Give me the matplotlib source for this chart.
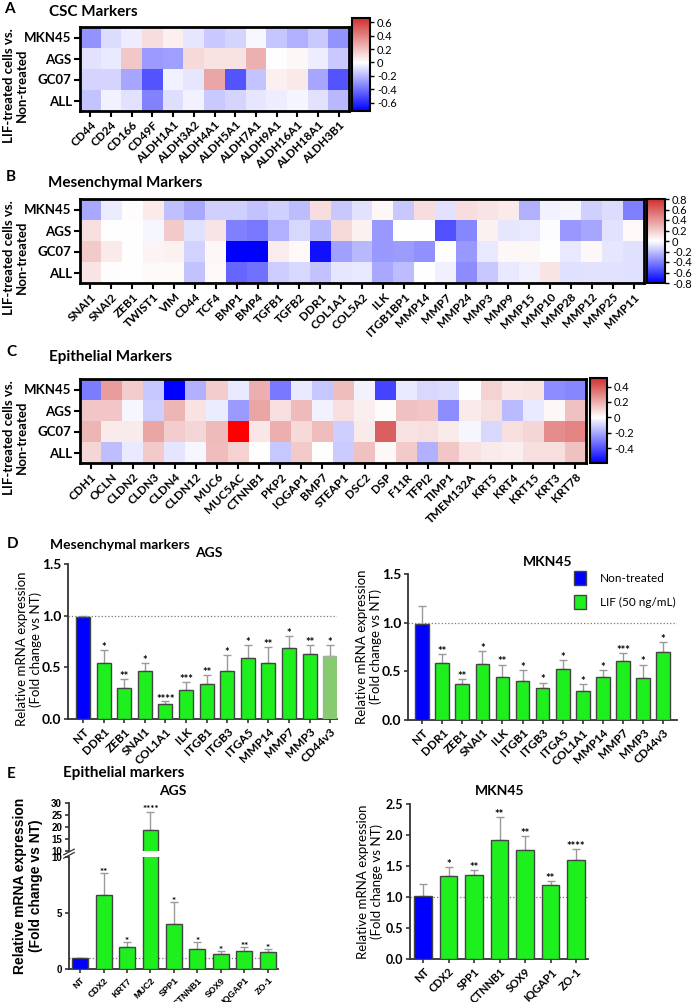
import numpy as np
import matplotlib
matplotlib.use('Agg')
import matplotlib.pyplot as plt
from matplotlib.colors import LinearSegmentedColormap
from matplotlib.patches import Patch

W, H = 692, 1002
plt.rcParams['font.family'] = ['Lato', 'DejaVu Sans']
plt.rcParams['axes.unicode_minus'] = False

# ---------------- heatmap data (log2 ratio LIF vs NT) ----------------
rows = ['MKN45', 'AGS', 'GC07', 'ALL']

csc_genes = ['CD44', 'CD24', 'CD166', 'CD49F', 'ALDH1A1', 'ALDH3A2', 'ALDH4A1',
             'ALDH5A1', 'ALDH7A1', 'ALDH9A1', 'ALDH16A1', 'ALDH18A1', 'ALDH3B1']
csc_mkn45 = [-0.30, -0.10, -0.05, 0.10, 0.05, -0.07, -0.15, -0.12, -0.02, -0.16, -0.22, -0.15, -0.30]
csc_ags = [-0.08, -0.06, 0.18, -0.28, -0.27, 0.12, 0.09, 0.09, 0.25, 0.00, 0.02, -0.05, -0.15]
csc_gc07 = [-0.12, -0.12, -0.25, -0.48, -0.04, -0.07, 0.28, -0.48, -0.17, 0.05, 0.07, -0.25, -0.48]
csc_all = [-0.17, -0.04, -0.08, -0.35, -0.09, -0.04, -0.15, -0.12, -0.07, -0.05, -0.03, -0.08, -0.20]

mes_genes = ['SNAI1', 'SNAI2', 'ZEB1', 'TWIST1', 'VIM', 'CD44', 'TCF4', 'BMP1', 'BMP4',
             'TGFB1', 'TGFB2', 'DDR1', 'COL1A1', 'COL5A2', 'ILK', 'ITGB1BP1', 'MMP14',
             'MMP7', 'MMP24', 'MMP3', 'MMP9', 'MMP15', 'MMP10', 'MMP28', 'MMP12', 'MMP25', 'MMP11']
mes_mkn45 = [-0.27, -0.06, 0.01, 0.08, -0.20, -0.27, -0.15, -0.15, -0.19, -0.15, -0.21, 0.13, -0.17,
             -0.09, 0.03, -0.17, 0.13, -0.09, 0.13, 0.10, 0.08, -0.25, -0.04, -0.03, -0.15, -0.11, -0.40]
mes_ags = [0.12, 0.00, 0.00, -0.03, 0.20, -0.10, 0.10, -0.40, -0.42, -0.25, -0.12, -0.22, 0.14,
           0.05, -0.32, 0.00, 0.00, -0.55, -0.38, 0.05, -0.08, -0.07, -0.01, -0.32, -0.28, -0.09, 0.02]
mes_gc07 = [0.20, 0.08, 0.00, 0.04, 0.05, -0.14, 0.03, -0.80, -0.80, 0.07, 0.02, -0.75, -0.30,
            -0.22, -0.32, -0.31, -0.35, 0.00, -0.32, -0.07, 0.03, 0.03, 0.00, -0.07, 0.03, -0.08, -0.10]
mes_all = [0.10, 0.01, 0.00, 0.02, 0.02, -0.19, 0.02, -0.48, -0.44, -0.16, -0.12, -0.19, -0.08,
           -0.07, -0.27, -0.21, 0.00, -0.05, -0.36, -0.17, -0.07, -0.05, 0.10, -0.10, -0.09, -0.09, -0.10]

epi_genes = ['CDH1', 'OCLN', 'CLDN2', 'CLDN3', 'CLDN4', 'CLDN12', 'MUC6', 'MUC5AC', 'CTNNB1',
             'PKP2', 'IQGAP1', 'BMP7', 'STEAP1', 'DSC2', 'DSP', 'F11R', 'TFPI2', 'TIMP1',
             'TMEM132A', 'KRT5', 'KRT4', 'KRT15', 'KRT3', 'KRT78']
epi_mkn45 = [-0.30, 0.24, 0.12, -0.13, -0.59, -0.18, 0.12, -0.05, 0.20, -0.31, -0.05, -0.13,
             0.16, -0.03, -0.43, -0.05, -0.09, -0.08, 0.00, 0.11, 0.06, 0.07, -0.26, -0.28]
epi_ags = [0.14, 0.14, -0.02, -0.11, 0.18, 0.07, -0.04, -0.23, 0.22, 0.08, 0.17, -0.03,
           0.08, 0.04, 0.01, 0.15, 0.14, -0.26, 0.05, 0.08, -0.16, -0.05, 0.02, 0.15]
epi_gc07 = [0.18, 0.05, 0.05, 0.22, 0.12, 0.10, 0.17, 0.60, 0.06, 0.20, 0.09, 0.16,
            -0.11, 0.05, 0.39, 0.07, 0.08, 0.05, -0.02, -0.09, 0.08, 0.10, 0.28, 0.30]
epi_all = [0.10, -0.15, -0.05, 0.13, -0.06, -0.02, 0.16, 0.11, 0.00, -0.13, 0.13, 0.00,
           -0.12, 0.15, 0.02, 0.13, -0.18, 0.14, 0.07, 0.05, 0.04, 0.08, 0.08, 0.15]

# ---------------- qPCR bar data ----------------
d_ags_genes = ['NT', 'DDR1', 'ZEB1', 'SNAI1', 'COL1A1', 'ILK', 'ITGB1', 'ITGB3', 'ITGA5',
               'MMP14', 'MMP7', 'MMP3', 'CD44v3']
d_ags_mean = [0.99, 0.54, 0.30, 0.46, 0.15, 0.28, 0.34, 0.46, 0.59, 0.54, 0.69, 0.63, 0.61]
d_ags_upper = [1.00, 0.67, 0.385, 0.54, 0.17, 0.36, 0.43, 0.62, 0.72, 0.70, 0.805, 0.72, 0.72]
d_ags_stars = ['', '*', '**', '*', '****', '***', '**', '*', '*', '**', '*', '**', '*']

d_mkn_genes = ['NT', 'DDR1', 'ZEB1', 'SNAI1', 'ILK', 'ITGB1', 'ITGB3', 'ITGA5', 'COL1A1',
               'MMP14', 'MMP7', 'MMP3', 'CD44v3']
d_mkn_mean = [0.99, 0.59, 0.365, 0.58, 0.44, 0.405, 0.325, 0.52, 0.30, 0.445, 0.61, 0.43, 0.70]
d_mkn_upper = [1.17, 0.68, 0.42, 0.71, 0.57, 0.515, 0.385, 0.62, 0.37, 0.515, 0.69, 0.57, 0.80]
d_mkn_stars = ['', '**', '**', '*', '**', '*', '*', '*', '*', '*', '***', '*', '*']

e_ags_genes = ['NT', 'CDX2', 'KRT7', 'MUC2', 'SPP1', 'CTNNB1', 'SOX9', 'IQGAP1', 'ZO-1']
e_ags_mean = [1.0, 6.6, 1.95, 18.6, 4.05, 1.8, 1.36, 1.63, 1.54]
e_ags_upper = [1.0, 8.6, 2.43, 26.4, 5.95, 2.4, 1.63, 1.92, 1.8]
e_ags_stars = ['', '**', '*', '****', '*', '*', '*', '**', '*']

e_mkn_genes = ['NT', 'CDX2', 'SPP1', 'CTNNB1', 'SOX9', 'IQGAP1', 'ZO-1']
e_mkn_mean = [1.02, 1.34, 1.36, 1.92, 1.76, 1.20, 1.59]
e_mkn_upper = [1.21, 1.48, 1.44, 2.29, 1.99, 1.26, 1.77]
e_mkn_stars = ['', '*', '**', '**', '**', '**', '****']

BLUE = '#0000FF'
GREEN = '#1EF01E'

fig = plt.figure(figsize=(W / 100, H / 100), dpi=100)


def box(x0, y0, x1, y1):
    # pixel rectangle (top-left origin) -> figure fraction
    return [x0 / W, 1 - y1 / H, (x1 - x0) / W, (y1 - y0) / H]


def ftext(x, y, s, **kw):
    fig.text(x / W, 1 - y / H, s, **kw)


def make_cmap(vmin, vmax):
    f = -vmin / (vmax - vmin)
    cm = LinearSegmentedColormap.from_list('bwr_gp', [(0, '#0000FF'), (f, '#FFFFFF'), (1, '#D03030')])
    cm.set_over('#FF0000')
    return cm


def heatmap(genes, vals, vmin, vmax, ticks, rect, crect):
    ax = fig.add_axes(box(*rect))
    im = ax.imshow(np.array(vals), cmap=make_cmap(vmin, vmax), vmin=vmin, vmax=vmax,
                   aspect='auto', interpolation='nearest')
    ax.set_xticks(range(len(genes)))
    ax.set_xticklabels(genes, rotation=45, ha='right', rotation_mode='anchor',
                       fontsize=8.5, fontweight='bold')
    ax.set_yticks(range(len(rows)))
    ax.set_yticklabels(rows, fontsize=9.5, fontweight='bold')
    ax.tick_params(length=4, width=1.5, pad=2)
    for s in ax.spines.values():
        s.set_linewidth(2)
    ax.set_ylabel('LIF-treated cells vs.\nNon-treated', fontsize=9.5, fontweight='bold',
                  linespacing=1.1)
    ax.yaxis.set_label_coords((28 - rect[0]) / (rect[2] - rect[0]), 0.3)
    cax = fig.add_axes(box(*crect))
    cb = fig.colorbar(im, cax=cax, ticks=ticks, extend='neither')
    cb.ax.set_yticklabels(['%g' % t for t in ticks], fontsize=8)
    cb.ax.tick_params(length=3, width=1, pad=2)
    cb.outline.set_linewidth(1.5)
    return ax


heatmap(csc_genes, [csc_mkn45, csc_ags, csc_gc07, csc_all], -0.72, 0.66,
        [0.6, 0.4, 0.2, 0, -0.2, -0.4, -0.6], (80, 27, 349, 111), (352, 18, 370, 111))
heatmap(mes_genes, [mes_mkn45, mes_ags, mes_gc07, mes_all], -0.8, 0.8,
        [0.8, 0.6, 0.4, 0.2, 0, -0.2, -0.4, -0.6, -0.8], (80, 199, 644, 283), (647, 199, 665, 283))
heatmap(epi_genes, [epi_mkn45, epi_ags, epi_gc07, epi_all], -0.59, 0.51,
        [0.4, 0.2, 0, -0.2, -0.4], (80, 379, 586, 463), (590, 378, 607, 463))

ftext(4, 9, 'A', fontsize=11, fontweight='bold', va='center')
ftext(49, 12, 'CSC Markers', fontsize=11, fontweight='bold', va='center')
ftext(6, 177, 'B', fontsize=11, fontweight='bold', va='center')
ftext(48, 183, 'Mesenchymal Markers', fontsize=11, fontweight='bold', va='center')
ftext(6, 352, 'C', fontsize=11, fontweight='bold', va='center')
ftext(49, 357, 'Epithelial Markers', fontsize=11, fontweight='bold', va='center')
ftext(7, 544, 'D', fontsize=11, fontweight='bold', va='center')
ftext(50, 545, 'Mesenchymal markers', fontsize=10, fontweight='bold', va='center')
ftext(7, 774, 'E', fontsize=11, fontweight='bold', va='center')
ftext(63, 773, 'Epithelial markers', fontsize=11, fontweight='bold', va='center')


def style_axes(ax, fs_y=9, family=None):
    for s in ['top', 'right']:
        ax.spines[s].set_visible(False)
    for s in ['left', 'bottom']:
        ax.spines[s].set_linewidth(1.3)
        ax.spines[s].set_color('#333333')
    ax.tick_params(length=3, width=1.2, color='#333333', pad=2)
    for lab in ax.get_yticklabels():
        lab.set_fontsize(fs_y)
        lab.set_fontweight('bold')
        if family:
            lab.set_family(family)


def bars(ax, genes, mean, upper, stars, star_off, last_light=False, fs_star=8,
         star_range=(-np.inf, np.inf)):
    n = len(genes)
    x = np.arange(n)
    mean = np.array(mean)
    upper = np.array(upper)
    colors = [BLUE] + [GREEN] * (n - 1)
    edges = ['#444444'] * n
    if last_light:
        colors[-1] = '#86CC6E'
        edges[-1] = '#AAAAAA'
    ax.bar(x, mean, width=0.68, color=colors, edgecolor=edges, linewidth=1, zorder=3)
    ax.errorbar(x, mean, yerr=[np.zeros(n), upper - mean], fmt='none', ecolor='#9a9a9a',
                elinewidth=1, capsize=3, capthick=1, zorder=2)
    for xi, u, s in zip(x, upper, stars):
        if s and star_range[0] <= u < star_range[1]:
            ax.text(xi, u + star_off, s, ha='center', va='bottom', fontsize=fs_star,
                    fontweight='bold', zorder=4)
    return x


# ---- D AGS ----
ax = fig.add_axes(box(68, 564, 337, 719))
x = bars(ax, d_ags_genes, d_ags_mean, d_ags_upper, d_ags_stars, -0.03, last_light=True)
ax.axhline(1.0, ls=':', color='#777777', lw=0.9, zorder=1)
ax.set_xlim(-0.73, 12.33)
ax.set_ylim(0, 1.5)
ax.set_yticks([0, 0.5, 1.0, 1.5])
ax.set_yticklabels(['0.0', '0.5', '1.0', '1.5'])
ax.set_xticks(x)
ax.set_xticklabels(d_ags_genes, rotation=45, ha='right', rotation_mode='anchor',
                   fontsize=8.5, fontweight='bold')
style_axes(ax, fs_y=10)
ax.set_ylabel('Relative mRNA expression\n(Fold change vs NT)', fontsize=9.5, linespacing=1.1)
ax.yaxis.set_label_coords((42 - 68) / 269, 0.45)
ftext(209, 553, 'AGS', fontsize=10, fontweight='bold', ha='center', va='center')

# ---- D MKN45 ----
ax = fig.add_axes(box(408, 574, 677, 720))
x = bars(ax, d_mkn_genes, d_mkn_mean, d_mkn_upper, d_mkn_stars, -0.03)
ax.axhline(1.0, ls=':', color='#777777', lw=0.9, zorder=1)
ax.set_xlim(-0.70, 12.69)
ax.set_ylim(0, 1.5)
ax.set_yticks([0, 0.5, 1.0, 1.5])
ax.set_yticklabels(['0.0', '0.5', '1.0', '1.5'])
ax.set_xticks(x)
ax.set_xticklabels(d_mkn_genes, rotation=45, ha='right', rotation_mode='anchor',
                   fontsize=8.5, fontweight='bold')
style_axes(ax, fs_y=10)
ax.set_ylabel('Relative mRNA expression\n(Fold change vs NT)', fontsize=9.5, linespacing=1.1)
ax.yaxis.set_label_coords((382 - 408) / 269, 0.5)
ftext(548, 562, 'MKN45', fontsize=10, fontweight='bold', ha='center', va='center')
handles = [Patch(facecolor=BLUE, edgecolor='#444444'), Patch(facecolor=GREEN, edgecolor='#444444')]
fig.legend(handles, ['Non-treated', 'LIF (50 ng/mL)'], loc='upper left',
           bbox_to_anchor=(574 / W, 1 - 571 / H), frameon=False, fontsize=8.5,
           handlelength=1.0, handleheight=1.4, handletextpad=1.2, labelspacing=0.9,
           borderaxespad=0, borderpad=0)

# ---- E AGS (broken axis) ----
lib = ['Liberation Sans', 'DejaVu Sans']
ax_hi = fig.add_axes(box(69, 803, 278, 851))
ax_lo = fig.add_axes(box(69, 857, 278, 969))
for a, lo, hi, ticks, off in [(ax_hi, 10, 30, [10, 15, 20, 25, 30], -0.9),
                              (ax_lo, 0, 10, [0, 5, 10], -0.35)]:
    x = bars(a, e_ags_genes, e_ags_mean, e_ags_upper, e_ags_stars, off, fs_star=7,
             star_range=(lo, hi))
    a.set_xlim(-0.47, 8.43)
    a.set_ylim(lo, hi)
    a.set_yticks(ticks)
    a.set_yticklabels([str(t) for t in ticks])
    style_axes(a, fs_y=7, family=lib)
ax_hi.spines['bottom'].set_visible(False)
ax_hi.set_xticks([])
ax_lo.axhline(1.0, ls=':', color='#777777', lw=0.9, zorder=1)
ax_lo.set_xticks(np.arange(len(e_ags_genes)))
ax_lo.set_xticklabels(e_ags_genes, rotation=45, ha='right', rotation_mode='anchor',
                      fontsize=6.5, fontweight='bold', family=lib)
ax_lo.plot([-0.025, 0.025], [0.99, 1.04], transform=ax_lo.transAxes, clip_on=False,
           color='#333333', lw=0.9)
ax_lo.plot([-0.025, 0.025], [1.02, 1.07], transform=ax_lo.transAxes, clip_on=False,
           color='#333333', lw=0.9)
ftext(28, 886, 'Relative mRNA expression\n(Fold change vs NT)', fontsize=10, fontweight='bold',
      rotation=90, ha='center', va='center', family=lib, linespacing=1.1)
ftext(173, 791, 'AGS', fontsize=10, fontweight='bold', ha='center', va='center')

# ---- E MKN45 ----
ax = fig.add_axes(box(410, 804, 588, 959))
x = bars(ax, e_mkn_genes, e_mkn_mean, e_mkn_upper, e_mkn_stars, -0.05)
ax.axhline(1.0, ls=':', color='#777777', lw=0.9, zorder=1)
ax.set_xlim(-0.51, 6.47)
ax.set_ylim(0, 2.5)
ax.set_yticks([0, 0.5, 1.0, 1.5, 2.0, 2.5])
ax.set_yticklabels(['0.0', '0.5', '1.0', '1.5', '2.0', '2.5'])
ax.set_xticks(x)
ax.set_xticklabels(e_mkn_genes, rotation=45, ha='right', rotation_mode='anchor',
                   fontsize=8, fontweight='bold')
style_axes(ax, fs_y=9)
ax.set_ylabel('Relative mRNA expression\n(Fold change vs NT)', fontsize=9.5, linespacing=1.1)
ax.yaxis.set_label_coords((383 - 410) / 178, 0.5)
ftext(500, 791, 'MKN45', fontsize=10, fontweight='bold', ha='center', va='center')

fig.savefig('out.png', dpi=100)
